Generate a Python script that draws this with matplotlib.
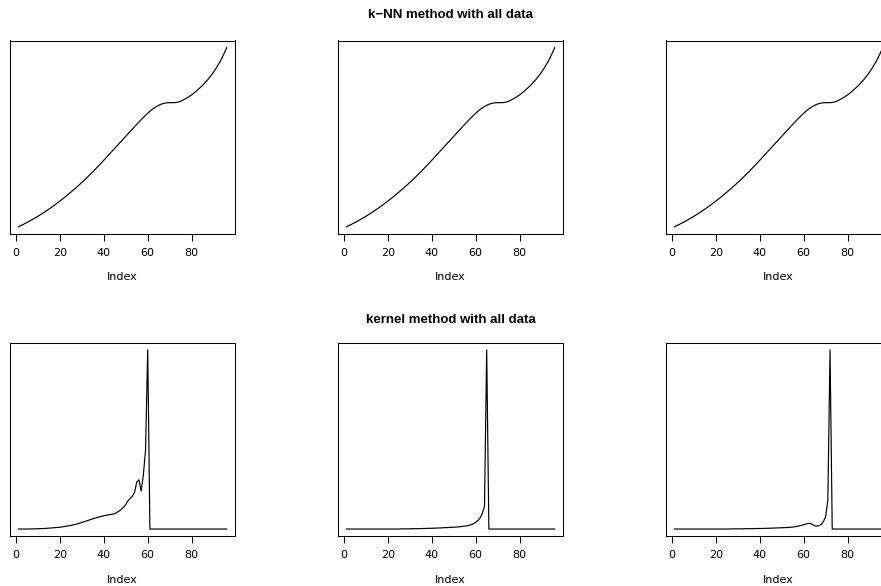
import numpy as np
import matplotlib
matplotlib.use("Agg")
import matplotlib.pyplot as plt

plt.rcParams["font.family"] = ["DejaVu Sans"]

# Fitted curves, one value per observation index (1..96)
knn_fit = [
    0.053, 0.064, 0.074, 0.086, 0.097, 0.109, 0.121, 0.134, 0.147, 0.160,
    0.174, 0.188, 0.202, 0.217, 0.232, 0.247, 0.263, 0.279, 0.296, 0.312,
    0.330, 0.347, 0.365, 0.383, 0.402, 0.421, 0.440, 0.459, 0.479, 0.500,
    0.520, 0.541, 0.563, 0.584, 0.606, 0.629, 0.652, 0.675, 0.698, 0.722,
    0.746, 0.770, 0.794, 0.818, 0.842, 0.866, 0.890, 0.914, 0.938, 0.962,
    0.986, 1.010, 1.034, 1.058, 1.082, 1.105, 1.128, 1.150, 1.172, 1.193,
    1.213, 1.231, 1.247, 1.261, 1.273, 1.283, 1.290, 1.295, 1.298, 1.299,
    1.299, 1.299, 1.301, 1.306, 1.314, 1.324, 1.335, 1.348, 1.362, 1.377,
    1.394, 1.412, 1.432, 1.452, 1.473, 1.496, 1.520, 1.546, 1.575, 1.606,
    1.639, 1.674, 1.712, 1.754, 1.800, 1.851,
]

kernel_fit_1 = [
    0.000, 0.000, 0.000, 0.000, 0.000, 0.000, 0.001, 0.001, 0.001, 0.002,
    0.002, 0.003, 0.003, 0.004, 0.005, 0.006, 0.007, 0.008, 0.009, 0.010,
    0.012, 0.014, 0.016, 0.018, 0.020, 0.023, 0.026, 0.029, 0.033, 0.037,
    0.041, 0.045, 0.049, 0.053, 0.057, 0.061, 0.065, 0.068, 0.071, 0.074,
    0.077, 0.079, 0.081, 0.083, 0.086, 0.093, 0.101, 0.110, 0.122, 0.137,
    0.158, 0.170, 0.183, 0.205, 0.262, 0.275, 0.212, 0.300, 0.440, 1.000,
    0.000, 0.000, 0.000, 0.000, 0.000, 0.000, 0.000, 0.000, 0.000, 0.000,
    0.000, 0.000, 0.000, 0.000, 0.000, 0.000, 0.000, 0.000, 0.000, 0.000,
    0.000, 0.000, 0.000, 0.000, 0.000, 0.000, 0.000, 0.000, 0.000, 0.000,
    0.000, 0.000, 0.000, 0.000, 0.000, 0.000,
]

kernel_fit_2 = [
    0.000, 0.000, 0.000, 0.000, 0.000, 0.000, 0.000, 0.000, 0.000, 0.000,
    0.000, 0.000, 0.000, 0.000, 0.000, 0.000, 0.000, 0.000, 0.000, 0.000,
    0.000, 0.000, 0.000, 0.000, 0.000, 0.001, 0.001, 0.001, 0.001, 0.001,
    0.002, 0.002, 0.002, 0.002, 0.003, 0.003, 0.003, 0.004, 0.004, 0.004,
    0.005, 0.005, 0.006, 0.006, 0.007, 0.008, 0.008, 0.009, 0.010, 0.010,
    0.011, 0.012, 0.013, 0.015, 0.016, 0.018, 0.021, 0.025, 0.030, 0.038,
    0.048, 0.062, 0.088, 0.127, 1.000, 0.000, 0.000, 0.000, 0.000, 0.000,
    0.000, 0.000, 0.000, 0.000, 0.000, 0.000, 0.000, 0.000, 0.000, 0.000,
    0.000, 0.000, 0.000, 0.000, 0.000, 0.000, 0.000, 0.000, 0.000, 0.000,
    0.000, 0.000, 0.000, 0.000, 0.000, 0.000,
]

kernel_fit_3 = [
    0.000, 0.000, 0.000, 0.000, 0.000, 0.000, 0.000, 0.000, 0.000, 0.000,
    0.000, 0.000, 0.000, 0.000, 0.000, 0.000, 0.000, 0.000, 0.000, 0.000,
    0.000, 0.000, 0.000, 0.000, 0.000, 0.000, 0.001, 0.001, 0.001, 0.001,
    0.001, 0.001, 0.002, 0.002, 0.002, 0.002, 0.002, 0.003, 0.003, 0.003,
    0.003, 0.004, 0.004, 0.004, 0.005, 0.005, 0.006, 0.006, 0.007, 0.007,
    0.008, 0.008, 0.009, 0.010, 0.011, 0.013, 0.015, 0.018, 0.021, 0.024,
    0.028, 0.031, 0.031, 0.025, 0.018, 0.016, 0.019, 0.026, 0.042, 0.070,
    0.160, 1.000, 0.000, 0.000, 0.000, 0.000, 0.000, 0.000, 0.000, 0.000,
    0.000, 0.000, 0.000, 0.000, 0.000, 0.000, 0.000, 0.000, 0.000, 0.000,
    0.000, 0.000, 0.000, 0.000, 0.000, 0.000,
]

row_titles = ["k\u2212NN method with all data", "kernel method with all data"]
x_ticks = [0, 20, 40, 60, 80]
x_label = "Index"

rows = [
    [knn_fit, knn_fit, knn_fit],
    [kernel_fit_1, kernel_fit_2, kernel_fit_3],
]

W, H = 881, 586
fig = plt.figure(figsize=(W / 100, H / 100), dpi=100)
fig.patch.set_facecolor("white")

col_left_px = [10, 338, 666]
box_w_px = 225
row_top_px = [40.5, 342.7]
box_h_px = 193.5
title_pads = [16.0, 14.5]


def r_limits(v):
    lo, hi = min(v), max(v)
    pad = (hi - lo) * 0.04
    return lo - pad, hi + pad


for r, (series_row, title) in enumerate(zip(rows, row_titles)):
    for c, series in enumerate(series_row):
        left = col_left_px[c] / W
        bottom = 1 - (row_top_px[r] + box_h_px) / H
        ax = fig.add_axes([left, bottom, box_w_px / W, box_h_px / H])
        idx = np.arange(1, len(series) + 1)
        ax.plot(idx, series, color="black", lw=0.85)
        ax.set_xlim(*r_limits(idx))
        ax.set_ylim(*r_limits(series))
        ax.set_xticks(x_ticks)
        ax.set_xticklabels([str(t) for t in x_ticks], fontsize=8)
        ax.tick_params(axis="x", direction="out", length=5, width=0.75, pad=5.2)
        ax.set_yticks([])
        for s in ax.spines.values():
            s.set_linewidth(0.75)
            s.set_color("black")
        ax.set_xlabel(x_label, fontsize=8, labelpad=10.2)
        if c == 1:
            ax.set_title(title, fontsize=9.5, fontweight="bold", pad=title_pads[r],
                         family=["Liberation Sans", "DejaVu Sans"])

fig.savefig("out.png", dpi=100, facecolor="white")
